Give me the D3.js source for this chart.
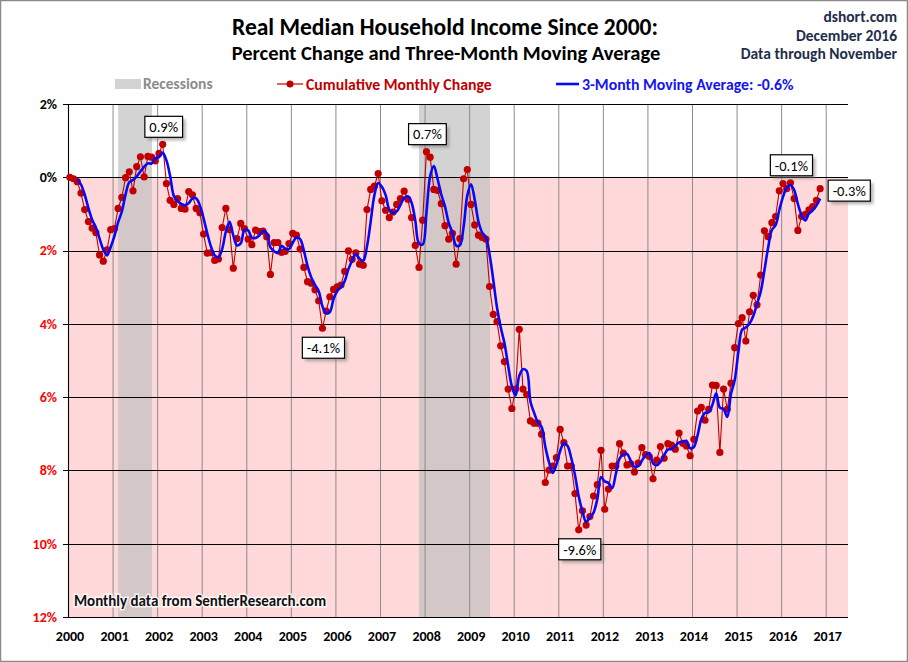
<!DOCTYPE html>
<html><head><meta charset="utf-8">
<script src="https://cdn.jsdelivr.net/npm/d3@7"></script>
<style>
body{margin:0;background:#fff}
svg{display:block}
text{font-family:Carlito, Lato, "Open Sans", sans-serif}
</style>
</head><body>
<svg id="c" width="908" height="662"></svg>
<script>
// ---------------- DATA ----------------
const startYear = 2000;
// Cumulative % change in real median household income, monthly from Jan 2000 to Nov 2016
const monthlyChange = [
  0.00,-0.04,-0.12,-0.43,-0.88,-1.21,-1.39,-1.51,-2.12,-2.29,-1.98,-1.43,   // 2000
 -1.40,-0.85,-0.55,-0.01, 0.15,-0.37, 0.29, 0.56, 0.01, 0.57, 0.55, 0.45,   // 2001
  0.65, 0.90,-0.17,-0.63,-0.74,-0.58,-0.85,-0.87,-0.39,-0.48,-0.85,-0.97,   // 2002
 -1.55,-2.07,-2.06,-2.27,-2.23,-1.37,-0.85,-1.43,-2.48,-1.67,-1.26,-1.40,   // 2003
 -1.69,-1.84,-1.44,-1.48,-1.47,-1.62,-2.65,-1.78,-1.78,-2.05,-2.02,-1.81,   // 2004
 -1.53,-1.58,-1.96,-2.46,-2.85,-2.89,-3.07,-3.37,-4.12,-3.65,-3.26,-3.06,   // 2005
 -2.99,-2.94,-2.57,-2.01,-2.24,-2.06,-2.37,-2.40,-0.88,-0.33,-0.24, 0.10,   // 2006
 -0.64,-0.90,-1.10,-0.95,-0.74,-0.58,-0.38,-0.60,-1.10,-1.86,-2.46,-1.17,   // 2007
  0.70, 0.55,-0.33,-0.36,-0.72,-1.32,-1.69,-1.53,-2.37,-1.67,-0.04, 0.21,   // 2008
 -0.74,-1.30,-1.58,-1.64,-1.69,-2.98,-3.74,-3.94,-4.60,-5.03,-5.78,-6.31,   // 2009
 -5.78,-4.15,-5.78,-5.93,-6.65,-6.71,-6.71,-7.01,-8.33,-7.99,-7.88,-7.65,   // 2010
 -6.88,-7.24,-7.88,-7.88,-8.63,-9.62,-9.10,-9.49,-9.26,-8.70,-8.39,-7.45,   // 2011
 -9.06,-8.51,-7.88,-7.88,-7.27,-7.53,-7.85,-7.82,-8.04,-7.80,-7.38,-7.57,   // 2012
 -7.62,-8.23,-7.72,-7.35,-7.67,-7.27,-7.31,-7.42,-6.98,-7.26,-7.33,-7.60,   // 2013
 -7.15,-6.38,-6.28,-6.63,-6.33,-5.67,-5.68,-7.51,-5.78,-6.33,-5.62,-4.65,   // 2014
 -3.99,-3.83,-4.47,-3.67,-3.22,-3.48,-2.67,-1.46,-1.62,-1.24,-1.07,-0.37,   // 2015
 -0.17,-0.31,-0.15,-0.58,-1.45,-1.07,-1.01,-0.89,-0.80,-0.63,-0.31          // 2016 (Jan-Nov)
];
// NBER recessions: [start year, start month, end year, end month]
const recessions = [[2001, 3, 2001, 11], [2007, 12, 2009, 6]];
const yTicks = [2, 0, -2, -4, -6, -8, -10, -12];
const xTickYears = d3.range(2000, 2018);
// Callouts: month index into monthlyChange, label, placement
const annotations = [
  {i: 25,  text: "0.9%",  place: "above"},
  {i: 96,  text: "0.7%",  place: "above"},
  {i: 68,  text: "-4.1%", place: "below"},
  {i: 137, text: "-9.6%", place: "below"},
  {i: 194, text: "-0.1%", place: "above"},
  {i: 202, text: "-0.3%", place: "right"}
];
const titleLines = ["Real Median Household Income Since 2000:", "Percent Change and Three-Month Moving Average"];
const sourceLines = ["dshort.com", "December 2016", "Data through November"];
const footnote = "Monthly data from SentierResearch.com";

// 3-month trailing moving average of the cumulative change series
const movingAvg = monthlyChange.map((v, i) => i < 2 ? null : (monthlyChange[i] + monthlyChange[i-1] + monthlyChange[i-2]) / 3);

// ---------------- CHART ----------------
const svg = d3.select("#c");
const W = 908, H = 662;
const L = 68, R = 848, T = 104, B = 617;
const x = d3.scaleLinear().domain([2000, 2017.5]).range([L, R]);
const y = d3.scaleLinear().domain([-12, 2]).range([B, T]);
const tOf = i => startYear + (i + 0.5) / 12;

const RED = "#C00000", BLUE = "#0808F8";

// defs
const defs = svg.append("defs");
const f = defs.append("filter").attr("id", "sh").attr("x", "-20%").attr("y", "-20%").attr("width", "160%").attr("height", "180%");
f.append("feGaussianBlur").attr("stdDeviation", 1.6);

// outer border
svg.append("rect").attr("x", 0.5).attr("y", 0.5).attr("width", W - 1).attr("height", H - 1)
  .attr("fill", "#fff").attr("stroke", "#8a8a8a").attr("stroke-width", 1.5);

// pink negative area
svg.append("rect").attr("x", L).attr("y", y(0)).attr("width", R - L).attr("height", y(-12) - y(0))
  .attr("fill", "#FFD8D9");

// recession bands
svg.append("g").selectAll("rect").data(recessions).join("rect")
  .attr("x", d => x(d[0] + (d[1] - 1.5) / 12))
  .attr("width", d => x(d[2] + (d[3] - 0.4) / 12) - x(d[0] + (d[1] - 1.5) / 12))
  .attr("y", T).attr("height", B - T)
  .attr("fill", "#BEBEBE").attr("opacity", 0.68);

// vertical year gridlines
svg.append("g").selectAll("line").data(xTickYears.filter(d => d > 2000)).join("line")
  .attr("x1", d => x(d) + 0.5).attr("x2", d => x(d) + 0.5)
  .attr("y1", T).attr("y2", B)
  .attr("stroke", "#8c8c8c").attr("stroke-width", 1);

// horizontal gridlines
svg.append("g").selectAll("line").data(yTicks).join("line")
  .attr("x1", L - 5).attr("x2", R)
  .attr("y1", d => Math.round(y(d)) + 0.5).attr("y2", d => Math.round(y(d)) + 0.5)
  .attr("stroke", "#000").attr("stroke-width", 1.1);

// y axis line
svg.append("line").attr("x1", L + 0.5).attr("x2", L + 0.5).attr("y1", T).attr("y2", B)
  .attr("stroke", "#000").attr("stroke-width", 1.1);

// y tick labels
svg.append("g").selectAll("text").data(yTicks).join("text")
  .attr("x", 57).attr("y", d => y(d)).attr("dy", "0.35em")
  .attr("text-anchor", "end").attr("font-size", 14).attr("font-weight", "bold")
  .attr("fill", d => d < 0 ? "#FF0000" : "#000")
  .text(d => Math.abs(d) + "%");

// x tick labels
svg.append("g").selectAll("text").data(xTickYears).join("text")
  .attr("x", d => x(d) + 2).attr("y", 641)
  .attr("text-anchor", "middle").attr("font-size", 14).attr("font-weight", "bold")
  .attr("fill", "#000")
  .text(d => d);

// footnote
svg.append("text").attr("x", 74).attr("y", 606)
  .attr("font-size", 15).attr("font-weight", "bold").attr("fill", "#111")
  .attr("stroke", "#fff").attr("stroke-width", 3).attr("stroke-opacity", 0.8)
  .attr("paint-order", "stroke")
  .text(footnote);

// red series: line + dots
const pts = monthlyChange.map((v, i) => ({t: tOf(i), v}));
svg.append("path").datum(pts)
  .attr("fill", "none").attr("stroke", RED).attr("stroke-width", 1.1)
  .attr("d", d3.line().x(d => x(d.t)).y(d => y(d.v)));
svg.append("g").selectAll("circle").data(pts).join("circle")
  .attr("cx", d => x(d.t)).attr("cy", d => y(d.v)).attr("r", 3.6)
  .attr("fill", RED);

// blue moving average
const ma = movingAvg.map((v, i) => ({t: tOf(i), v})).filter(d => d.v !== null);
svg.append("path").datum(ma)
  .attr("fill", "none").attr("stroke", BLUE).attr("stroke-width", 2.6)
  .attr("stroke-linejoin", "round")
  .attr("d", d3.line().curve(d3.curveCatmullRom.alpha(0.5)).x(d => x(d.t)).y(d => y(d.v)));

// callout boxes
const ag = svg.append("g");
annotations.forEach(a => {
  const px = x(tOf(a.i)), py = y(monthlyChange[a.i]);
  const g = ag.append("g");
  const txt = g.append("text").attr("font-size", 14.5).attr("fill", "#000").text(a.text);
  const bw = txt.node().getComputedTextLength() + 9, bh = 21;
  let bx, by;
  if (a.place === "above") { bx = px - bw / 2 + 1; by = py - 7 - bh; }
  else if (a.place === "below") { bx = px - bw / 2 + 1; by = py + 9; }
  else { bx = px + 8; by = py - bh / 2 + 2; }
  g.insert("rect", "text").attr("x", bx + 3).attr("y", by + 3).attr("width", bw).attr("height", bh)
    .attr("fill", "#777").attr("opacity", 0.55).attr("filter", "url(#sh)");
  g.insert("rect", "text").attr("x", bx).attr("y", by).attr("width", bw).attr("height", bh)
    .attr("fill", "#fff").attr("stroke", "#000").attr("stroke-width", 1.2);
  txt.attr("x", bx + bw / 2).attr("y", by + bh / 2).attr("dy", "0.36em").attr("text-anchor", "middle");
});

// titles
svg.append("text").attr("x", 445).attr("y", 35).attr("text-anchor", "middle")
  .attr("font-size", 23.5).attr("font-weight", "bold").attr("fill", "#000").text(titleLines[0]);
svg.append("text").attr("x", 446).attr("y", 60).attr("text-anchor", "middle")
  .attr("font-size", 20.5).attr("font-weight", "bold").attr("fill", "#000").text(titleLines[1]);

// source block
svg.append("g").selectAll("text").data(sourceLines).join("text")
  .attr("x", 897).attr("y", (d, i) => 22 + i * 18.5).attr("text-anchor", "end")
  .attr("font-size", (d, i) => i === 0 ? 15.5 : 15.5).attr("font-weight", "bold").attr("fill", "#1E2E4A")
  .text(d => d);

// legend
const lg = svg.append("g");
lg.append("rect").attr("x", 115).attr("y", 79).attr("width", 26).attr("height", 10).attr("fill", "#D3D3D3");
lg.append("text").attr("x", 143).attr("y", 84).attr("dy", "0.35em").attr("font-size", 15.5).attr("font-weight", "bold")
  .attr("fill", "#8C8C8C").text("Recessions");
lg.append("line").attr("x1", 277).attr("x2", 303).attr("y1", 84).attr("y2", 84).attr("stroke", RED).attr("stroke-width", 1.2);
lg.append("circle").attr("cx", 290).attr("cy", 84).attr("r", 3.5).attr("fill", RED);
lg.append("text").attr("x", 306).attr("y", 84).attr("dy", "0.35em").attr("font-size", 15.8).attr("font-weight", "bold")
  .attr("fill", RED).text("Cumulative Monthly Change");
lg.append("line").attr("x1", 556).attr("x2", 579).attr("y1", 84).attr("y2", 84).attr("stroke", BLUE).attr("stroke-width", 2.6);
const lastMA = movingAvg[movingAvg.length - 1];
lg.append("text").attr("x", 582).attr("y", 84).attr("dy", "0.35em").attr("font-size", 15.8).attr("font-weight", "bold")
  .attr("fill", "#1414F0").text("3-Month Moving Average: " + lastMA.toFixed(1) + "%");
</script>
</body></html>
